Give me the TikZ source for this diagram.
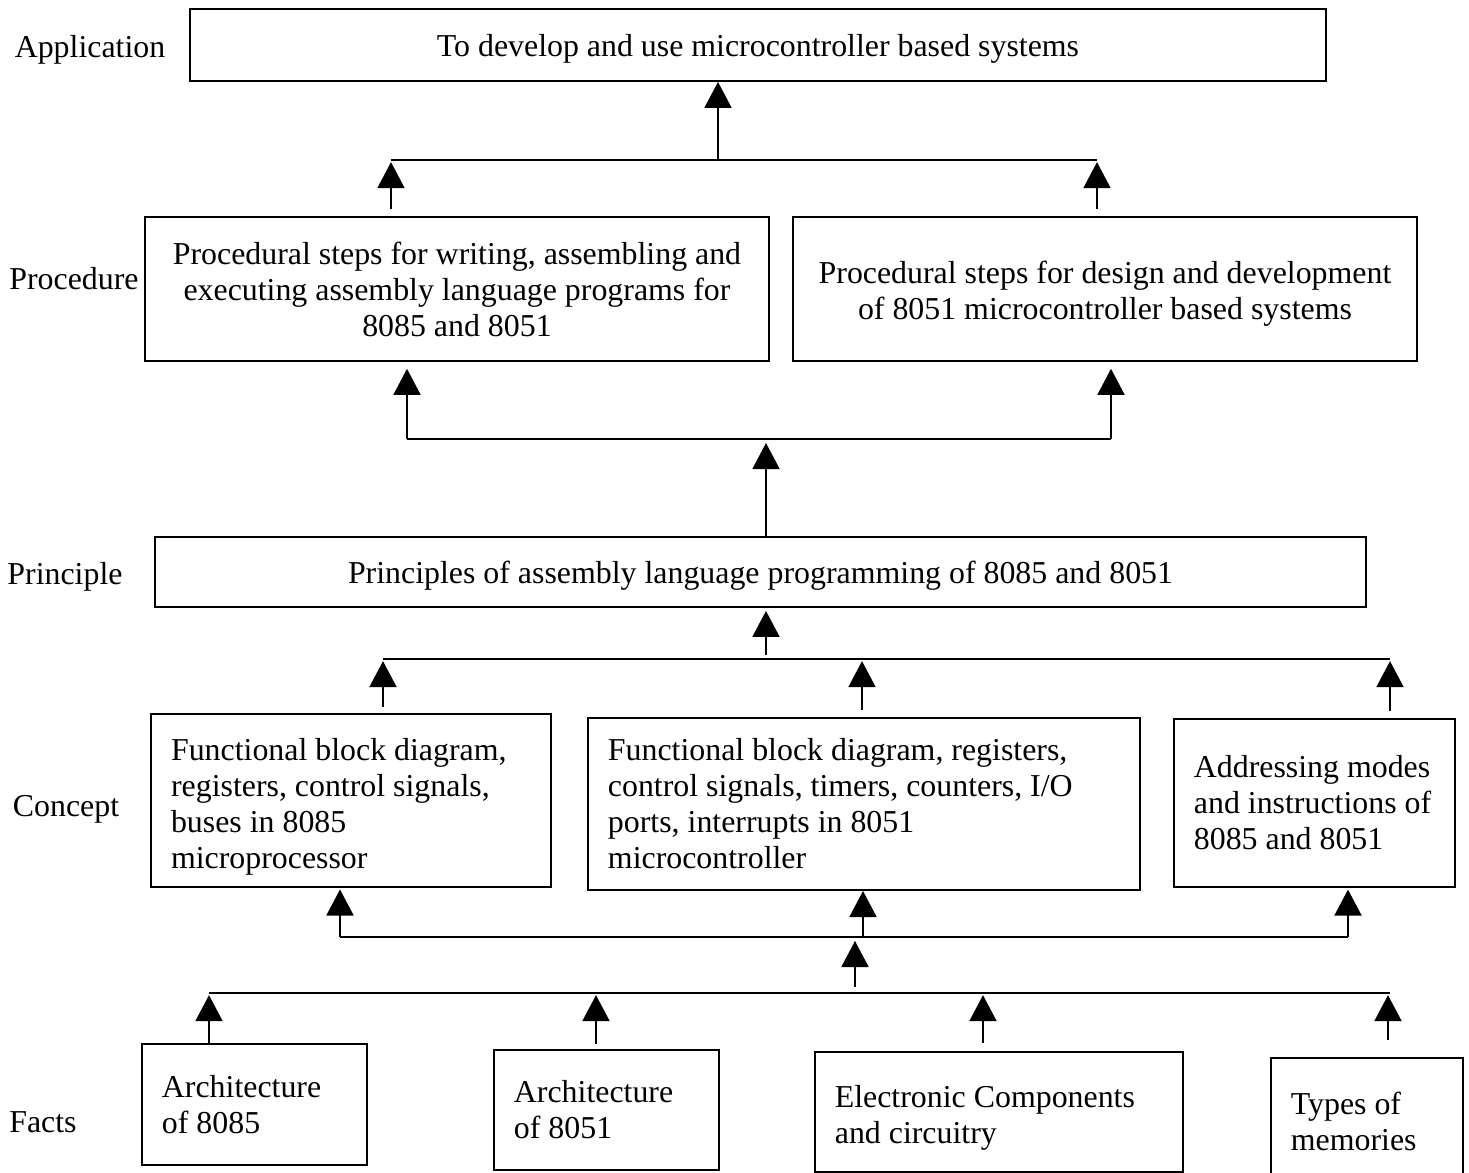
\documentclass[tikz,border=0pt]{standalone}
\usepackage{fontspec}
\setmainfont{Liberation Serif}
\usetikzlibrary{arrows.meta}

\tikzset{
  box/.style={draw, line width=0.7pt, inner sep=0pt},
  cbox/.style={box, align=center},
  lbox/.style={box, align=flush left},
  oneline/.style={text height=11.2pt, text depth=2.7pt},
  tag/.style={inner sep=0pt},
  bar/.style={line width=0.6pt},
  up/.style={-{Triangle[width=10.2pt,length=9.8pt]}, line width=0.6pt}
}

\begin{document}
\begin{tikzpicture}[x=0.3765pt, y=-0.3765pt, font=\fontsize{12pt}{13.55pt}\selectfont]
\useasboundingbox (0,0) rectangle (1469,1173);

% level names
\node[tag] (tapp) at (90,50) {Application};
\node[tag] (tproc) at (74,279) {Procedure};
\node[tag] (tprinc) at (65,577) {Principle};
\node[tag] (tconc) at (66,809) {Concept};
\node[tag] (tfact) at (43,1122) {Facts};

% boxes
\node[cbox, oneline, minimum width=427.7pt, minimum height=27.1pt] (appl) at (758,45) {To develop and use microcontroller based systems};
\node[cbox, minimum width=234.9pt, minimum height=54.2pt] (procasm) at (457,289) {Procedural steps for writing, assembling and\\ executing assembly language programs for\\ 8085 and 8051};
\node[cbox, minimum width=234.9pt, minimum height=54.2pt] (procdesign) at (1105,289) {\rule{0pt}{11.8pt}Procedural steps for design and development\\ of 8051 microcontroller based systems};
\node[cbox, oneline, minimum width=455.9pt, minimum height=26.4pt] (princ) at (760.5,572) {Principles of assembly language programming of 8085 and 8051};
\node[lbox, minimum width=150.6pt, minimum height=65.1pt, text width=135.5pt] (conc8085) at (351,800.5) {\rule{0pt}{13pt}Functional block diagram,\\ registers, control signals,\\ buses in 8085\\ microprocessor};
\node[lbox, minimum width=207.8pt, minimum height=64.8pt, text width=192.8pt] (conc8051) at (864,804) {Functional block diagram, registers,\\ control signals, timers, counters, I/O\\ ports, interrupts in 8051\\ microcontroller};
\node[lbox, minimum width=105.8pt, minimum height=63.3pt, text width=90.8pt] (concmodes) at (1314.5,803) {Addressing modes\\ and instructions of\\ 8085 and 8051};
\node[lbox, minimum width=84.7pt, minimum height=45.6pt, text width=69.7pt] (fact8085) at (254.5,1104.5) {Architecture\\ of 8085};
\node[lbox, minimum width=84.7pt, minimum height=45.2pt, text width=69.7pt] (fact8051) at (606.5,1110) {Architecture\\ of 8051};
\node[lbox, minimum width=138.6pt, minimum height=45.2pt, text width=123.6pt] (factelec) at (999,1112) {\rule{0pt}{13pt}Electronic Components\\ and circuitry};
\node[lbox, minimum width=72.3pt, minimum height=47.8pt, text width=57.3pt] (factmem) at (1367,1121.5) {Types of\\ memories};

% procedure -> application
\coordinate (j1) at (718,160);
\coordinate (j1l) at (391,160);
\coordinate (j1r) at (1097,160);
\coordinate (s1l) at (391,209);
\coordinate (s1r) at (1097,209);
\draw[bar] (j1l) -- (j1r);
\draw[up] (j1) -- (j1 |- appl.south);
\draw[up, shorten >=0.8pt] (s1l) -- (j1l);
\draw[up, shorten >=0.8pt] (s1r) -- (j1r);

% principle -> procedure
\coordinate (j2) at (766,439);
\coordinate (j2l) at (407,439);
\coordinate (j2r) at (1111,439);
\draw[bar] (j2l) -- (j2r);
\draw[up, shorten >=2.6pt] (j2l) -- (j2l |- procasm.south);
\draw[up, shorten >=2.6pt] (j2r) -- (j2r |- procdesign.south);
\draw[up, shorten >=1.5pt] (j2 |- princ.north) -- (j2);

% concept -> principle
\coordinate (j3) at (766,659);
\coordinate (j3l) at (383,659);
\coordinate (j3m) at (862,659);
\coordinate (j3r) at (1390,659);
\coordinate (s3) at (766,655);
\coordinate (s3l) at (383,707);
\coordinate (s3m) at (862,710);
\coordinate (s3r) at (1390,711);
\draw[bar] (j3l) -- (j3r);
\draw[up, shorten >=1.1pt] (s3) -- (s3 |- princ.south);
\draw[up, shorten >=0.8pt] (s3l) -- (j3l);
\draw[up, shorten >=0.8pt] (s3m) -- (j3m);
\draw[up, shorten >=0.8pt] (s3r) -- (j3r);

% facts -> concept
\coordinate (j4) at (855,937);
\coordinate (j4l) at (340,937);
\coordinate (j4m) at (863,937);
\coordinate (j4r) at (1348,937);
\coordinate (s4) at (855,987);
\draw[bar] (j4l) -- (j4r);
\draw[up, shorten >=0.6pt] (j4l) -- (j4l |- conc8085.south);
\draw[up] (j4m) -- (j4m |- conc8051.south);
\draw[up, shorten >=0.6pt] (j4r) -- (j4r |- concmodes.south);
\draw[up, shorten >=1.5pt] (s4) -- (j4);

\coordinate (j5l) at (209,993);
\coordinate (j5r) at (1390,993);
\coordinate (s5a) at (209,1043);
\coordinate (s5b) at (596,1044);
\coordinate (s5c) at (983,1043);
\coordinate (s5d) at (1388,1040);
\draw[bar] (j5l) -- (j5r);
\draw[up, shorten >=0.8pt] (s5a) -- (s5a |- j5l);
\draw[up, shorten >=0.8pt] (s5b) -- (s5b |- j5l);
\draw[up, shorten >=0.8pt] (s5c) -- (s5c |- j5l);
\draw[up, shorten >=0.8pt] (s5d) -- (s5d |- j5l);
\end{tikzpicture}
\end{document}
